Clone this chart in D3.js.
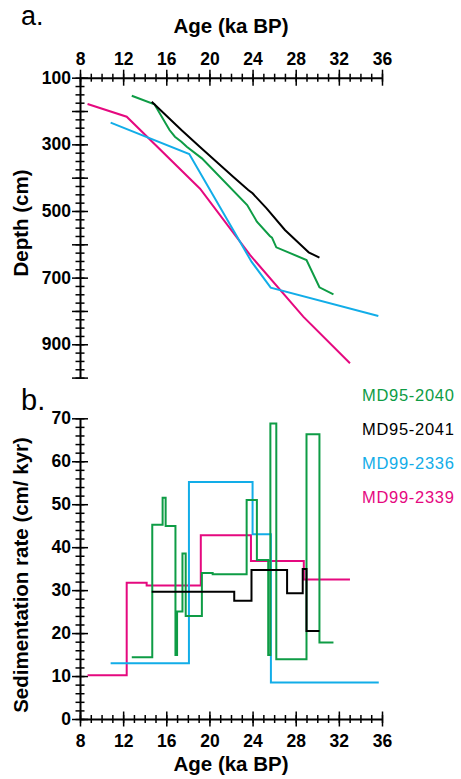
<!DOCTYPE html>
<html>
<head>
<meta charset="utf-8">
<script src="https://cdn.jsdelivr.net/npm/d3@7"></script>
<style>
  body { margin: 0; background: #fff; }
  svg { display: block; }
  text { font-family: "Liberation Sans", Arial, Helvetica, sans-serif; }
  .tick text { font-size: 17.5px; font-weight: bold; fill: #000; }
  .tick line { stroke: #000; stroke-width: 1.5; }
  .domain { stroke: #000; stroke-width: 2; }
  .title { font-size: 20.5px; font-weight: bold; }
  .legend { font-size: 16.5px; letter-spacing: 0.7px; }
</style>
</head>
<body>
<div id="chart"></div>
<script>
// colours per core
var cores = ["MD95-2040", "MD95-2041", "MD99-2336", "MD99-2339"];
var colors = ["#0e9c45", "#000000", "#12ade8", "#e5097f"];

// panel a: age (ka BP) vs depth (cm)
var ageA_2040 = [12.8, 14.9, 16.3, 16.8, 17.4, 17.9, 19.3, 23.5, 24.4, 25.6, 25.8, 26.2, 29.0, 30.2, 31.5];
var depA_2040 = [154, 180, 257, 277, 292, 307, 342, 482, 532, 575, 580, 609, 647, 729, 750];
var ageA_2041 = [14.65, 17.4, 19.1, 22.2, 23.6, 24.0, 25.3, 27.0, 28.8, 29.2, 30.2];
var depA_2041 = [172, 257, 307, 397, 437, 447, 492, 557, 612, 624, 640];
var ageA_2336 = [10.84, 18.13, 23.9, 25.68, 35.66];
var depA_2336 = [235, 329, 652, 730, 815];
var ageA_2339 = [8.7, 12.33, 19.13, 23.76, 28.7, 33.03];
var depA_2339 = [179, 217, 433, 632, 817, 957];

// panel b: step boundaries (ka BP) and sedimentation rate (cm/kyr) per step
var ageB_2040 = [12.8, 14.7, 15.66, 15.94, 16.85, 17.0, 17.5, 17.8, 19.3, 20.3, 23.45, 24.4, 25.45, 25.65, 26.2, 29.0, 30.2, 31.5];
var rateB_2040 = [14.4, 45.2, 51.5, 44.9, 14.9, 25.0, 38.5, 24.0, 34.0, 33.7, 51.0, 37.0, 14.9, 68.8, 13.9, 66.3, 17.8];
var ageB_2041 = [14.65, 22.3, 23.9, 27.2, 28.65, 29.0, 30.2];
var rateB_2041 = [29.6, 27.5, 34.7, 29.3, 34.9, 20.5];
var ageB_2336 = [10.84, 18.1, 24.0, 25.7, 35.7];
var rateB_2336 = [13.0, 55.2, 43.0, 8.5];
var ageB_2339 = [8.7, 12.33, 14.18, 19.2, 23.85, 28.75, 33.03];
var rateB_2339 = [10.2, 31.7, 31.1, 42.8, 36.8, 32.5];

var ageMajor = d3.range(8, 37, 4);
var ageMinor = d3.range(8, 37, 1);
var depthMajor = d3.range(100, 1001, 100);
var depthLabels = [100, 300, 500, 700, 900];
var depthMinor = d3.range(100, 1001, 25);
var rateMajor = d3.range(0, 71, 10);
var rateMinor = d3.range(0, 71, 2);

var W = 461, H = 779;
var svg = d3.select("#chart").append("svg")
    .attr("width", W)
    .attr("height", H);

var x = d3.scaleLinear().domain([8, 36]).range([80, 382]);
var yD = d3.scaleLinear().domain([100, 1000]).range([77.7, 377.6]);
var yR = d3.scaleLinear().domain([0, 70]).range([719, 418.3]);

function crossAxis(g, axisA, axisB, scale, major, minor, big, small, fmt, pad) {
    // minor ticks on both sides
    g.append("g").call(axisA(scale).tickValues(minor).tickSize(small).tickFormat(""))
        .call(function (s) { s.select(".domain").remove(); });
    g.append("g").call(axisB(scale).tickValues(minor).tickSize(small).tickFormat(""))
        .call(function (s) { s.select(".domain").remove(); });
    // major ticks on both sides, labels on the first side
    g.append("g").call(axisB(scale).tickValues(major).tickSize(big).tickFormat(""))
        .call(function (s) { s.select(".domain").remove(); });
    g.append("g").call(axisA(scale).tickValues(major).tickSize(big).tickSizeOuter(0)
        .tickPadding(pad).tickFormat(fmt));
    g.selectAll("text").attr("font-family", null);
}

// ---- panel a ----
var gA = svg.append("g");
var depFmt = function (d) { return depthLabels.indexOf(d) >= 0 ? d : ""; };
crossAxis(gA.append("g").attr("transform", "translate(0," + yD(100) + ")"),
    d3.axisTop, d3.axisBottom, x, ageMajor, ageMinor, 8, 4, d3.format("d"), 5);
crossAxis(gA.append("g").attr("transform", "translate(" + x(8) + ",0)"),
    d3.axisLeft, d3.axisRight, yD, depthMajor, depthMinor, 8, 4.5, depFmt, 1);

var lineA = d3.line()
    .x(function (d) { return x(d[0]); })
    .y(function (d) { return yD(d[1]); });

var seriesA = [
    [ageA_2040, depA_2040],
    [ageA_2041, depA_2041],
    [ageA_2336, depA_2336],
    [ageA_2339, depA_2339]
];
// draw magenta and blue first, then green and black
[3, 2, 0, 1].forEach(function (i) {
    var pts = seriesA[i][0].map(function (a, j) { return [a, seriesA[i][1][j]]; });
    gA.append("path")
        .attr("d", lineA(pts))
        .attr("fill", "none")
        .attr("stroke", colors[i])
        .attr("stroke-width", 2);
});

svg.append("text").attr("x", 21).attr("y", 25)
    .style("font-size", "27px").text("a.");
svg.append("text").attr("class", "title").attr("x", 231).attr("y", 33)
    .attr("text-anchor", "middle").text("Age (ka BP)");
svg.append("text").attr("class", "title")
    .attr("transform", "translate(28," + 223 + ") rotate(-90)")
    .attr("text-anchor", "middle").text("Depth (cm)");

// ---- panel b ----
var gB = svg.append("g");
crossAxis(gB.append("g").attr("transform", "translate(0," + yR(0) + ")"),
    d3.axisBottom, d3.axisTop, x, ageMajor, ageMinor, 7.5, 4, d3.format("d"), 8);
crossAxis(gB.append("g").attr("transform", "translate(" + x(8) + ",0)"),
    d3.axisLeft, d3.axisRight, yR, rateMajor, rateMinor, 8, 4.5, d3.format("d"), 1);

var lineB = d3.line()
    .curve(d3.curveStepAfter)
    .x(function (d) { return x(d[0]); })
    .y(function (d) { return yR(d[1]); });

var seriesB = [
    [ageB_2040, rateB_2040],
    [ageB_2041, rateB_2041],
    [ageB_2336, rateB_2336],
    [ageB_2339, rateB_2339]
];
[3, 2, 0, 1].forEach(function (i) {
    var ages = seriesB[i][0], rates = seriesB[i][1];
    var pts = rates.map(function (r, j) { return [ages[j], r]; });
    pts.push([ages[ages.length - 1], rates[rates.length - 1]]);
    gB.append("path")
        .attr("d", lineB(pts))
        .attr("fill", "none")
        .attr("stroke", colors[i])
        .attr("stroke-width", 2);
});

svg.append("text").attr("x", 21).attr("y", 410)
    .style("font-size", "29px").text("b.");
svg.append("text").attr("class", "title").attr("x", 231).attr("y", 771)
    .attr("text-anchor", "middle").text("Age (ka BP)");
svg.append("text").attr("class", "title")
    .attr("transform", "translate(28," + 575 + ") rotate(-90)")
    .attr("text-anchor", "middle").text("Sedimentation rate (cm/ kyr)");

// legend
svg.selectAll(".legend")
    .data(cores)
    .enter().append("text")
    .attr("class", "legend")
    .attr("x", 362)
    .attr("y", function (d, i) { return 401 + i * 34; })
    .attr("fill", function (d, i) { return colors[i]; })
    .text(function (d) { return d; });
</script>
</body>
</html>
